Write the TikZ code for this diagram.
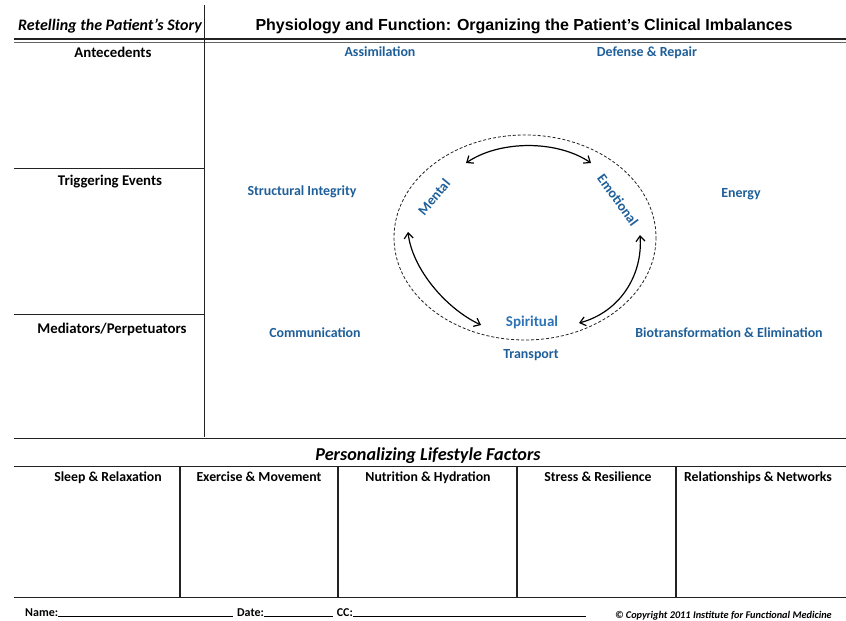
\documentclass[tikz,border=0pt]{standalone}
\usepackage{fontspec}
\setmainfont{Carlito}
\newfontfamily\arialfont{Liberation Sans}
\usetikzlibrary{arrows.meta}
\definecolor{fmblue}{HTML}{1F5F99}
\definecolor{fmlight}{HTML}{2E74B5}
\definecolor{rulegray}{HTML}{222222}
\begin{document}
\begin{tikzpicture}[x=1pt,y=-1pt,
  rulew/.style={draw=rulegray, line width=0.9pt},
  thinrule/.style={draw=rulegray!70, line width=0.7pt},
  head/.style={font=\fontsize{14.8}{17}\selectfont\bfseries, text=black, inner sep=0pt, anchor=base},
  colhead/.style={font=\fontsize{13.8}{16}\selectfont\bfseries, text=black, inner sep=0pt, anchor=base},
  sys/.style={font=\fontsize{13.9}{16}\selectfont\bfseries, text=fmblue, inner sep=0pt, anchor=base},
  ring/.style={font=\fontsize{14}{16}\selectfont\bfseries, text=fmblue, inner sep=0pt},
  link/.style={line width=1.2pt, black, {Straight Barb[length=5.5pt,width=9pt]}-{Straight Barb[length=5.5pt,width=9pt]}},
  foot/.style={font=\fontsize{12}{14}\selectfont\bfseries, inner sep=0pt, anchor=base west}]
\useasboundingbox (0,0) rectangle (846,621);
\fill[white] (0,0) rectangle (846,621);

% header row
\node[inner sep=0pt, anchor=base, font=\fontsize{16}{18}\selectfont\bfseries\itshape] (story) at (110,30) {Retelling the Patient’s Story};
\node[inner sep=0pt, anchor=base, font=\arialfont\fontsize{16}{18}\selectfont\bfseries] (title) at (524,30.5) {Physiology and Function: Organizing the Patient’s Clinical Imbalances};
\draw[draw=rulegray, line width=2.2pt] (14,39) -- (846,39);
\draw[thinrule] (14,42.5) -- (846,42.5);

% left column and its sections
\draw[rulew] (204,5) -- (204,437);
\draw[rulew] (14,168) -- (204,168);
\draw[rulew] (14,314) -- (204,314);
\node[head] (ante) at (113,57) {Antecedents};
\node[head] (trig) at (110,185) {Triggering Events};
\node[head] (medi) at (112,333) {Mediators/Perpetuators};

% functional systems
\node[sys] (assim) at (380,56.5) {Assimilation};
\node[sys] (defense) at (647,56.5) {Defense \& Repair};
\node[sys] (struct) at (302,195.5) {Structural Integrity};
\node[sys] (energy) at (741,197.5) {Energy};
\node[sys] (comm) at (315,337.5) {Communication};
\node[sys] (biotr) at (729,337.5) {Biotransformation \& Elimination};
\node[sys] (transp) at (531,358.5) {Transport};

% mental / emotional / spiritual ring
\draw[dashed, dash pattern=on 3pt off 2pt, line width=0.8pt, rulegray] (525,237.5) ellipse [x radius=131, y radius=102.5];
\node[ring, rotate=50] (mental) at (434,197) {Mental};
\node[ring, rotate=-54] (emot) at (618,200) {Emotional};
\node[ring, text=fmlight, font=\fontsize{15}{17}\selectfont\bfseries] (spirit) at (532,322) {Spiritual};

\coordinate (tl) at (466,163);
\coordinate (tr) at (591,163);
\coordinate (lt) at (408,232);
\coordinate (lb) at (481,325);
\coordinate (rt) at (640,235);
\coordinate (rb) at (579,323);
\draw[link] (tl) .. controls (500,140) and (557,140) .. (tr);
\draw[link] (lt) .. controls (412,268) and (445,308) .. (lb);
\draw[link] (rt) .. controls (643,275) and (620,312) .. (rb);

% lifestyle factors
\draw[rulew] (14,438) -- (846,438);
\node[inner sep=0pt, anchor=base, font=\fontsize{18.2}{21}\selectfont\bfseries\itshape] (life) at (428,460) {Personalizing Lifestyle Factors};
\draw[rulew] (14,466) -- (846,466);
\draw[rulew] (14,597) -- (846,597);
\foreach \x in {180,338,517,676} \draw[draw=rulegray, line width=1.4pt] (\x,466) -- (\x,597);
\node[colhead] (sleep) at (108,481.5) {Sleep \& Relaxation};
\node[colhead] (exer) at (259,481.5) {Exercise \& Movement};
\node[colhead] (nutr) at (428,481.5) {Nutrition \& Hydration};
\node[colhead] (stress) at (598,481.5) {Stress \& Resilience};
\node[colhead] (relat) at (758,481.5) {Relationships \& Networks};

% footer
\node[foot] (name) at (25,616) {Name:\rule[-1pt]{175pt}{0.7pt}\hspace{4pt}Date:\rule[-1pt]{69pt}{0.7pt}\hspace{4pt}CC:\rule[-1pt]{233pt}{0.7pt}};
\node[inner sep=0pt, anchor=base east, font=\fontsize{10.3}{12}\selectfont\bfseries\itshape] (copy) at (832,618.5) {© Copyright 2011 Institute for Functional Medicine};
\end{tikzpicture}
\end{document}
